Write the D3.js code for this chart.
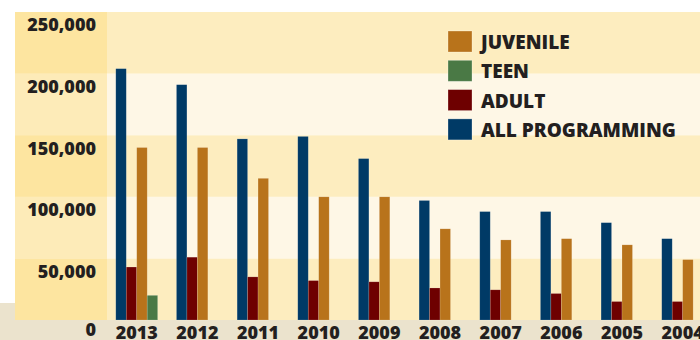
<!DOCTYPE html>
<html>
<head>
<meta charset="utf-8">
<script src="https://cdn.jsdelivr.net/npm/d3@7"></script>
<style>
  body { margin: 0; background: #fff; }
  svg { display: block; }
  text { font-family: "Open Sans", sans-serif; font-weight: 800; fill: #231f20; }
</style>
</head>
<body>
<div id="chart"></div>
<script>
// data
const years = ["2013", "2012", "2011", "2010", "2009", "2008", "2007", "2006", "2005", "2004"];
const series = ["ALL PROGRAMMING", "ADULT", "JUVENILE", "TEEN"];
const allProgramming = [204000, 191000, 147000, 149000, 131000, 97000, 88000, 88000, 79000, 66000];
const adult = [43000, 51000, 35000, 32000, 31000, 26000, 24500, 21500, 15000, 15000];
const juvenile = [140000, 140000, 115000, 100000, 100000, 74000, 65000, 66000, 61000, 49000];
const teen = [20000, null, null, null, null, null, null, null, null, null];
const yTicks = [0, 50000, 100000, 150000, 200000, 250000];
const legendOrder = ["JUVENILE", "TEEN", "ADULT", "ALL PROGRAMMING"];

const colors = {
  "ALL PROGRAMMING": "#003a66",
  "ADULT": "#6e0000",
  "JUVENILE": "#b8731b",
  "TEEN": "#4a7945"
};

const valuesBySeries = {
  "ALL PROGRAMMING": allProgramming,
  "ADULT": adult,
  "JUVENILE": juvenile,
  "TEEN": teen
};

const W = 700, H = 340;
const plotLeft = 15, plotTop = 12, plotBottom = 320, colRight = 107;

const svg = d3.select("#chart")
  .append("svg")
  .attr("width", W)
  .attr("height", H);

// beige ground under the chart
svg.append("rect")
  .attr("x", 0).attr("y", 303)
  .attr("width", W).attr("height", H - 303)
  .attr("fill", "#ebe3cd");

const y = d3.scaleLinear().domain([0, 250000]).range([plotBottom, plotTop]);

const x = d3.scaleBand()
  .domain(years)
  .range([colRight - 0.6, 713])
  .paddingInner(0.31)
  .paddingOuter(0.155);

const xs = d3.scaleBand()
  .domain(series)
  .range([0, x.bandwidth()]);

// horizontal bands
const bands = d3.pairs(yTicks);
svg.append("g")
  .selectAll("rect")
  .data(bands)
  .join("rect")
  .attr("x", plotLeft)
  .attr("y", d => y(d[1]))
  .attr("width", W - plotLeft)
  .attr("height", d => y(d[0]) - y(d[1]))
  .attr("fill", (d, i) => i % 2 === 0 ? "#fdedbf" : "#fef7e6");

// label column on the left
svg.append("g")
  .selectAll("rect")
  .data(bands)
  .join("rect")
  .attr("x", plotLeft)
  .attr("y", d => y(d[1]))
  .attr("width", colRight - plotLeft)
  .attr("height", d => y(d[0]) - y(d[1]))
  .attr("fill", (d, i) => i % 2 === 0 ? "#fde5a0" : "#fdebb8");

// bars
const groups = svg.append("g")
  .selectAll("g")
  .data(years)
  .join("g")
  .attr("transform", d => "translate(" + x(d) + ",0)");

groups.selectAll("rect")
  .data((d, i) => series.map(s => ({ key: s, value: valuesBySeries[s][i] })).filter(e => e.value != null))
  .join("rect")
  .attr("x", d => xs(d.key))
  .attr("y", d => y(d.value))
  .attr("width", xs.bandwidth())
  .attr("height", d => y(0) - y(d.value))
  .attr("fill", d => colors[d.key])
  .attr("stroke", "rgba(255,255,255,0.25)")
  .attr("stroke-width", 0.6);

// y axis labels
const yAxis = svg.append("g")
  .attr("transform", "translate(96,0)")
  .call(d3.axisLeft(y).tickValues(yTicks).tickSize(0).tickPadding(0).tickFormat(d3.format(",")));
yAxis.select(".domain").remove();
yAxis.selectAll("text")
  .attr("dy", d => d === 0 ? "0.85em" : "1.05em")
  .attr("fill", "#231f20")
  .style("font-size", "18px")
  .style("font-family", "'Open Sans', sans-serif")
  .style("font-weight", "800");

// x axis labels
const xAxis = svg.append("g")
  .attr("transform", "translate(0," + plotBottom + ")")
  .call(d3.axisBottom(x).tickSize(0).tickPadding(6));
xAxis.select(".domain").remove();
xAxis.selectAll("text")
  .attr("fill", "#231f20")
  .style("font-size", "18px")
  .style("font-family", "'Open Sans', sans-serif")
  .style("font-weight", "800");

// legend
const legend = svg.append("g")
  .selectAll("g")
  .data(legendOrder)
  .join("g")
  .attr("transform", (d, i) => "translate(448," + (31 + i * 29.3) + ")");

legend.append("rect")
  .attr("width", 24)
  .attr("height", 21)
  .attr("fill", d => colors[d])
  .attr("stroke", "rgba(255,255,255,0.35)")
  .attr("stroke-width", 0.8);

legend.append("text")
  .attr("x", 33)
  .attr("y", 18)
  .style("font-size", "19px")
  .text(d => d);
</script>
</body>
</html>
